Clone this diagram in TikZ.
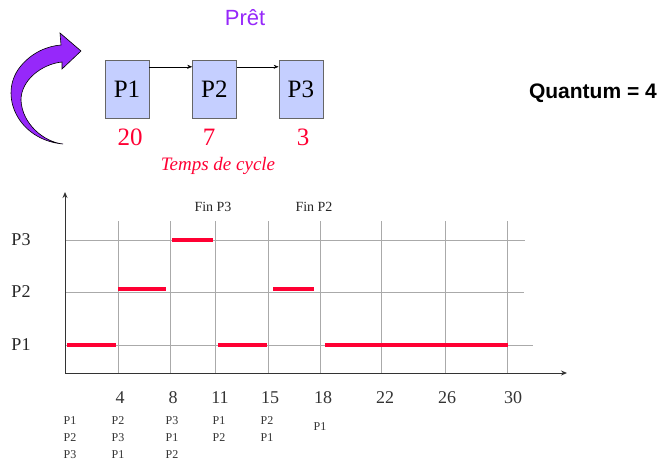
\documentclass[tikz,border=0pt]{standalone}
\usepackage{fontspec}
\setmainfont{Liberation Serif}
\newfontfamily\arialfont{Liberation Sans}
\usetikzlibrary{positioning,arrows.meta}
\definecolor{pretviolet}{RGB}{150,40,250}
\definecolor{cyclered}{RGB}{255,0,51}
\definecolor{boxblue}{RGB}{197,207,255}
\definecolor{gridgray}{RGB}{170,170,170}

\tikzset{
  procbox/.style={draw=gray!80!black, fill=boxblue, minimum width=44pt, minimum height=58pt, inner sep=0pt, font=\fontsize{25}{28}\selectfont},
  cyclenum/.style={text=cyclered, font=\fontsize{25}{28}\selectfont},
  runbar/.style={draw=cyclered, line width=4pt},
  gridline/.style={draw=gridgray, line width=0.8pt},
  axisline/.style={draw=black!80, line width=1pt, -{Stealth[length=6pt, width=5pt]}},
  ticklabel/.style={font=\fontsize{18}{20}\selectfont, text=black!80},
  queuelabel/.style={font=\fontsize{12}{17}\selectfont, align=left, text=black!80, anchor=north, inner sep=0pt},
}

\begin{document}
\begin{tikzpicture}[x=1pt, y=-1pt]
\useasboundingbox (0,0) rectangle (658,460);
% file des processus prets
\node[font=\arialfont\fontsize{22}{26}\selectfont, text=pretviolet] (pret) at (245,18) {Prêt};
\draw[fill=pretviolet, draw=black, line width=0.6pt]
  (63,144) .. controls (18,140) and (-2,95) .. (20,67)
  .. controls (32,52) and (48,46) .. (61,45) -- (60,33) -- (81,51) -- (62,69) -- (62,62)
  .. controls (42,64) and (21,80) .. (21,100)
  .. controls (22,124) and (44,142) .. (63,144) -- cycle;
\node[procbox] (p1) at (127,89) {P1};
\node[procbox, right=43pt of p1] (p2) {P2};
\node[procbox, right=42pt of p2] (p3) {P3};
\draw[-{Stealth[length=5pt, width=4pt]}] ([yshift=-7pt]p1.north east) -- ([yshift=-7pt]p2.north west);
\draw[-{Stealth[length=5pt, width=4pt]}] ([yshift=-7pt]p2.north east) -- ([yshift=-7pt]p3.north west);
\node[cyclenum] (c1) at (130,137) {20};
\node[cyclenum] (c2) at (209,137) {7};
\node[cyclenum] (c3) at (303,137) {3};
\node[font=\itshape\fontsize{19}{22}\selectfont, text=cyclered] (cycle) at (218,166) {Temps de cycle};
\node[font=\arialfont\bfseries\fontsize{21}{24}\selectfont, anchor=east, inner sep=0pt] (quantum) at (657,93) {Quantum = 4};

% diagramme de Gantt
\coordinate (origin) at (65,373);
\coordinate (ytop) at (65,192);
\coordinate (xend) at (567,373);
\foreach \y/\xe/\name in {240/525/P3, 292/524/P2, 345/533/P1} {
  \draw[gridline] (65,\y) -- (\xe,\y);
  \node[font=\fontsize{18}{20}\selectfont, text=black!85] at (21,\y) {\name};
}
\foreach \x in {118,170,215,268,320,381,445,507}
  \draw[gridline] (\x,221) -- (\x,373);
\draw[axisline] (origin) -- (ytop);
\draw[axisline] (origin) -- (xend);
\foreach \x/\t in {120/4,173/8,220/11,270/15,323/18,385/22,447/26,513/30}
  \node[ticklabel] at (\x,398) {\t};
\foreach \xa/\xb/\y in {67/116/345, 118/166/289, 172/213/240, 218/267/345, 273/314/289, 325/508/345}
  \draw[runbar] (\xa,\y) -- (\xb,\y);
\node[font=\fontsize{14}{16}\selectfont, text=black!85] (fin3) at (213,207) {Fin P3};
\node[font=\fontsize{14}{16}\selectfont, text=black!85] (fin2) at (314,207) {Fin P2};
% contenu de la file
\node[queuelabel] (q0) at (70,416) {P1\\P2\\P3};
\node[queuelabel] (q4) at (118,416) {P2\\P3\\P1};
\node[queuelabel] (q8) at (172,416) {P3\\P1\\P2};
\node[queuelabel] (q11) at (219,416) {P1\\P2};
\node[queuelabel] (q15) at (267,416) {P2\\P1};
\node[queuelabel] (q18) at (320,422) {P1};
\end{tikzpicture}
\end{document}
